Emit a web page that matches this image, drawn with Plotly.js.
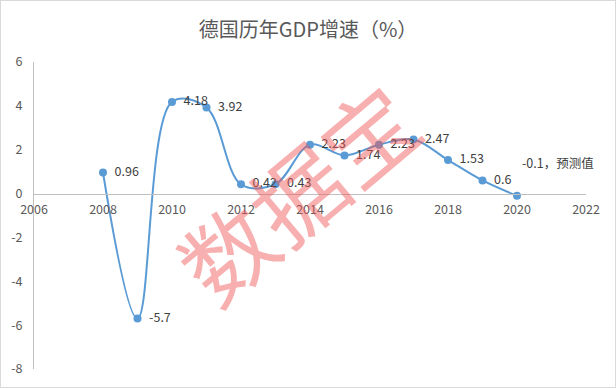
<!DOCTYPE html>
<html><head><meta charset="utf-8">
<script src="https://cdn.plot.ly/plotly-3.0.1.min.js"></script>
<style>
html,body{margin:0;padding:0;background:#fff;}
#wrap{position:absolute;left:0;top:0;width:616px;height:388px;box-sizing:border-box;border:1px solid #D9D9D9;}
#chart{position:absolute;left:0;top:0;width:614px;height:386px;}
</style></head>
<body><div id="wrap"><div id="chart"></div></div>
<script>
const years = [2008,2009,2010,2011,2012,2013,2014,2015,2016,2017,2018,2019,2020];
const growth = [0.96,-5.7,4.18,3.92,0.42,0.43,2.23,1.74,2.23,2.47,1.53,0.6,-0.1];
const labels = ['0.96','-5.7','4.18','3.92','0.42','0.43','2.23','1.74','2.23','2.47','1.53','0.6',''];
const lastLabel = '-0.1，预测值';
const titleText = '德国历年GDP增速（%）';
const watermark = '数据宝';
const yTickVals = [-8,-6,-4,-2,0,2,4,6];
const yTickText = ['-8','-6','-4','-2','0','2','4','6'];

const font = '"Noto Sans CJK SC", "Noto Sans", sans-serif';
const pad = '\u00a0\u00a0';
const trace = {
  x: years, y: growth, type: 'scatter', mode: 'lines+markers+text',
  line: {color: '#5B9BD5', width: 2, shape: 'spline', smoothing: 1},
  marker: {color: '#5B9BD5', size: 8},
  text: labels.map(function(s){ return s ? pad + s : s; }), textposition: 'middle right',
  textfont: {family: font, size: 12.5, color: '#404040'},
  cliponaxis: false, hoverinfo: 'skip'
};
const layout = {
  width: 614, height: 386,
  margin: {l: 33, r: 29, t: 61, b: 18},
  paper_bgcolor: '#fff', plot_bgcolor: 'rgba(0,0,0,0)',
  showlegend: false,
  title: {text: titleText, x: 0.5, xanchor: 'center', y: 0.925, yanchor: 'middle',
          font: {family: font, size: 20, color: '#595959'}},
  xaxis: {range: [2006, 2022], dtick: 2, tick0: 2006, showgrid: false, zeroline: false,
          showline: true, linecolor: '#BFBFBF', linewidth: 1,
          anchor: 'free', position: 8/14,
          ticks: 'outside', ticklen: 4, tickcolor: 'rgba(0,0,0,0)',
          tickfont: {family: font, size: 12.5, color: '#595959'}},
  yaxis: {range: [-8, 6], tickvals: yTickVals, ticktext: yTickText, showgrid: false, zeroline: false,
          showline: true, linecolor: '#BFBFBF', linewidth: 1,
          ticks: 'outside', ticklen: 8, tickcolor: 'rgba(0,0,0,0)',
          tickfont: {family: font, size: 12.5, color: '#595959'}},
  annotations: [
    {x: years[years.length-1], y: growth[growth.length-1], xref: 'x', yref: 'y',
     text: lastLabel, showarrow: false, xanchor: 'left', yanchor: 'middle',
     xshift: 3, yshift: 33, font: {family: font, size: 12.5, color: '#404040'}},
    {x: 0.475, y: 0.58, xref: 'paper', yref: 'paper', text: watermark, showarrow: false,
     textangle: -40, font: {family: font, size: 92, color: 'rgba(240,85,85,0.47)'}}
  ]
};
Plotly.newPlot('chart', [trace], layout, {displayModeBar: false, staticPlot: true});
</script></body></html>
